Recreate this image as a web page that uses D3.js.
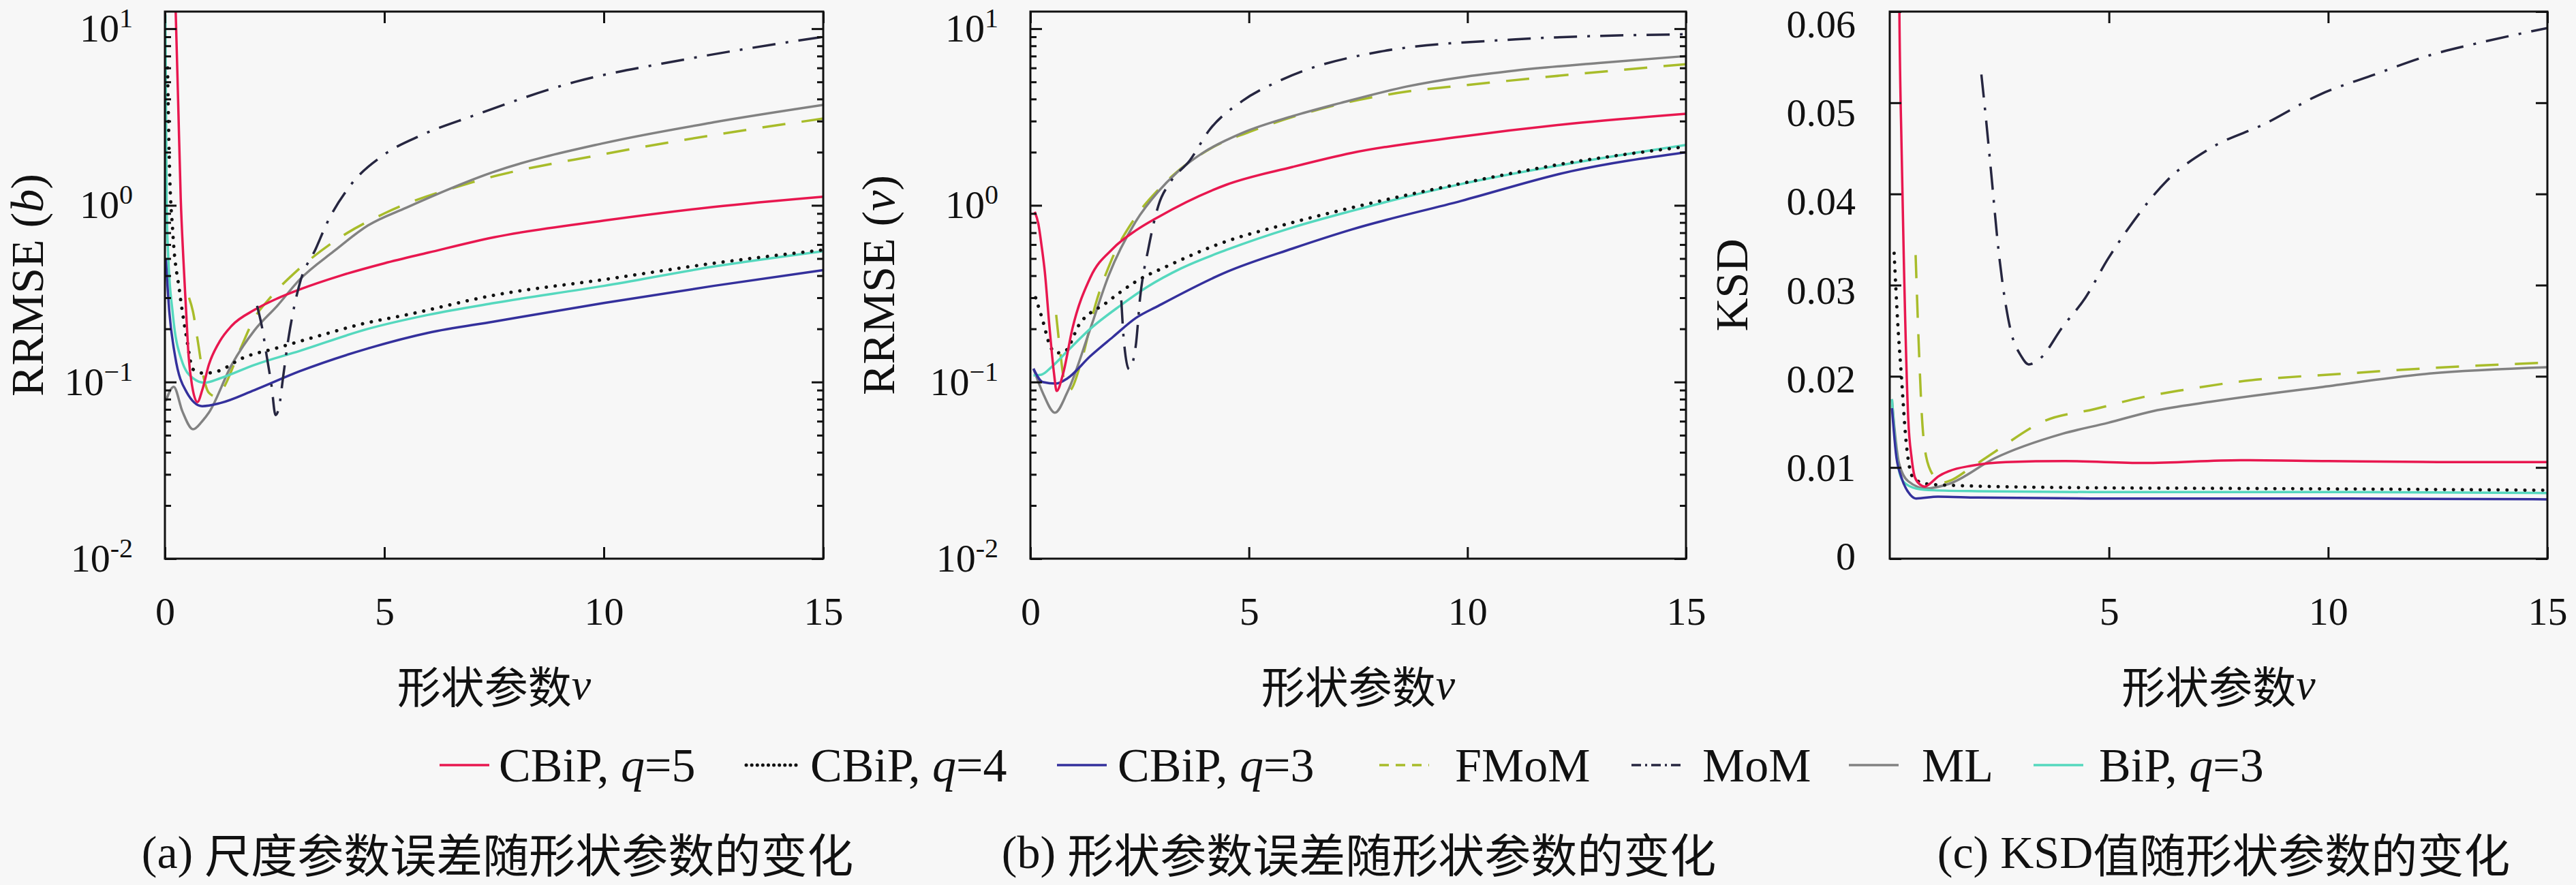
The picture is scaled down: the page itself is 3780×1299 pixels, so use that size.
<!DOCTYPE html>
<html lang="zh">
	<head>
		<meta charset="utf-8">
		<title>RRMSE / KSD vs shape parameter</title>
		<script type="text/javascript" src="https://cdn.jsdelivr.net/npm/d3@7"></script>
		<style type="text/css">
			body { margin: 0; background: #f7f7f7; }
			text { font-family: "Liberation Serif", "Noto Sans CJK SC", serif; fill: #111; }
		</style>
	</head>
	<body>
		<script type="text/javascript">
			//Legend / methods
			var methods = ["CBiP5", "CBiP4", "CBiP3", "FMoM", "MoM", "ML", "BiP"];
			var legendNames = ["CBiP, q=5", "CBiP, q=4", "CBiP, q=3", "FMoM", "MoM", "ML", "BiP, q=3"];

			//Tick values and labels
			var xTicksAB = [0, 5, 10, 15];
			var xTicksC = [5, 10, 15];
			var yTicksLog = [0.01, 0.1, 1, 10];
			var yTickLabelsLog = [["10", "-2"], ["10", "\u22121"], ["10", "0"], ["10", "1"]];
			var yTicksKSD = [0, 0.01, 0.02, 0.03, 0.04, 0.05, 0.06];
			var yTickLabelsKSD = ["0", "0.01", "0.02", "0.03", "0.04", "0.05", "0.06"];

			//(a) RRMSE of scale parameter b   [nu, value]
			var a_CBiP5 = [[0.24,14],[0.3,4],[0.36,1.1],[0.42,0.5],[0.48,0.26],[0.54,0.14],[0.62,0.095],[0.74,0.077],[0.85,0.09],[1.0,0.125],[1.25,0.17],[1.52,0.208],[2.04,0.256],[2.56,0.297],[3.07,0.334],[4.0,0.4],[5.0,0.47],[6.0,0.54],[7.5,0.66],[10,0.82],[12.5,0.98],[15,1.12]];
			var a_CBiP4 = [[0.06,6],[0.1,1.8],[0.18,0.7],[0.33,0.33],[0.49,0.18],[0.64,0.118],[0.9,0.112],[1.2,0.115],[1.78,0.137],[2.56,0.156],[3.59,0.185],[4.52,0.214],[5.5,0.24],[7.5,0.31],[10,0.38],[12.5,0.47],[15,0.56]];
			var a_CBiP3 = [[0.02,0.5],[0.1,0.25],[0.23,0.141],[0.49,0.088],[0.85,0.073],[1.26,0.076],[2.04,0.09],[3.07,0.115],[4.63,0.155],[6,0.19],[7.5,0.22],[10,0.28],[12.5,0.35],[15,0.43]];
			var a_FMoM = [[0.55,0.3],[0.64,0.25],[0.75,0.17],[0.87,0.11],[1.0,0.087],[1.15,0.083],[1.3,0.09],[1.7,0.15],[2.04,0.23],[2.4,0.3],[3.07,0.44],[4,0.66],[5,0.9],[7,1.35],[10,1.95],[12.5,2.5],[15,3.1]];
			var a_MoM = [[2.1,0.27],[2.22,0.2],[2.32,0.14],[2.43,0.095],[2.52,0.065],[2.6,0.072],[2.7,0.11],[2.82,0.18],[2.95,0.27],[3.07,0.36],[3.44,0.57],[3.7,0.8],[4.23,1.3],[5,1.94],[5.85,2.5],[7,3.2],[9.35,5.0],[11.85,6.7],[15,9.0]];
			var a_ML = [[0.02,0.078],[0.2,0.094],[0.4,0.068],[0.64,0.054],[0.85,0.06],[1.0,0.067],[1.52,0.125],[2.04,0.196],[2.56,0.27],[3.07,0.38],[3.85,0.55],[4.63,0.77],[5.5,0.97],[7.5,1.55],[10,2.25],[12.5,2.95],[15,3.7]];
			var a_BiP = [[0.01,12],[0.04,1.0],[0.07,0.55],[0.18,0.242],[0.38,0.133],[0.64,0.105],[0.9,0.099],[1.26,0.105],[2.04,0.125],[3.07,0.15],[4.63,0.2],[6,0.24],[7.5,0.28],[10,0.35],[12.5,0.45],[15,0.55]];

			//(b) RRMSE of shape parameter nu
			var b_CBiP5 = [[0.1,0.92],[0.18,0.79],[0.26,0.58],[0.33,0.42],[0.44,0.2],[0.54,0.112],[0.6,0.089],[0.75,0.112],[0.96,0.2],[1.37,0.39],[1.89,0.57],[2.41,0.72],[2.93,0.86],[4.49,1.31],[6,1.65],[7.35,1.98],[9.86,2.45],[12.37,2.9],[15,3.3]];
			var b_CBiP4 = [[0.12,0.3],[0.28,0.224],[0.45,0.16],[0.59,0.146],[0.8,0.15],[1.11,0.21],[1.73,0.28],[2.41,0.37],[3.19,0.46],[4.28,0.6],[6,0.8],[7.35,0.97],[9.86,1.33],[12.37,1.75],[15,2.15]];
			var b_CBiP3 = [[0.07,0.119],[0.28,0.1],[0.59,0.098],[0.85,0.105],[1.37,0.14],[1.89,0.18],[2.41,0.23],[2.93,0.27],[4.49,0.42],[6,0.57],[7.35,0.73],[9.86,1.06],[12.37,1.56],[15,2.0]];
			var b_FMoM = [[0.59,0.24],[0.68,0.15],[0.78,0.1],[0.9,0.09],[1.16,0.13],[1.5,0.28],[1.84,0.48],[2.41,0.86],[3.0,1.28],[4.2,2.15],[5,2.6],[7.1,3.75],[8.6,4.4],[10,4.8],[12.37,5.5],[15,6.3]];
			var b_MoM = [[2.08,0.29],[2.14,0.17],[2.26,0.118],[2.41,0.16],[2.51,0.3],[2.7,0.57],[2.93,1.0],[3.2,1.35],[3.65,1.8],[4.09,2.66],[4.85,3.9],[5.72,5.1],[7.98,7.4],[11.1,8.7],[15,9.3]];
			var b_ML = [[0.07,0.119],[0.3,0.085],[0.56,0.067],[0.85,0.088],[1.37,0.2],[1.79,0.4],[2.41,0.81],[2.93,1.2],[3.45,1.61],[3.97,2.0],[4.85,2.57],[6,3.2],[7.1,3.8],[8.6,4.7],[11.1,5.8],[13,6.4],[15,7.0]];
			var b_BiP = [[0.07,0.109],[0.25,0.11],[0.49,0.122],[0.85,0.15],[1.37,0.2],[2.05,0.27],[2.67,0.345],[3.45,0.44],[4.49,0.56],[6,0.75],[7.35,0.93],[9.86,1.32],[12.37,1.73],[15,2.2]];

			//(c) KSD
			var c_CBiP5 = [[0.18,0.09],[0.22,0.06],[0.27,0.045],[0.32,0.033],[0.42,0.0155],[0.5,0.011],[0.575,0.0089],[0.7,0.0081],[0.8,0.0079],[0.91,0.0082],[1.1,0.009],[1.35,0.0096],[1.87,0.0102],[2.65,0.0106],[4,0.0107],[5.8,0.0105],[8,0.0108],[10,0.0107],[12.5,0.0106],[15,0.0106]];
			var c_CBiP4 = [[0.1,0.0335],[0.18,0.026],[0.26,0.0204],[0.37,0.013],[0.52,0.009],[0.83,0.0082],[1.66,0.008],[4,0.0078],[8,0.0077],[12,0.0076],[15,0.0075]];
			var c_CBiP3 = [[0.05,0.0165],[0.15,0.0112],[0.26,0.009],[0.47,0.007],[0.6,0.0066],[1.1,0.0068],[2,0.0067],[5,0.0066],[10,0.0066],[15,0.0065]];
			var c_FMoM = [[0.59,0.0333],[0.68,0.0212],[0.73,0.0159],[0.83,0.0112],[1.01,0.009],[1.15,0.0083],[1.4,0.0086],[1.77,0.0097],[2.39,0.0117],[3.53,0.0151],[4.67,0.0164],[5.76,0.0177],[6.69,0.0185],[7.94,0.0194],[10.4,0.0203],[12.31,0.0209],[15,0.0215]];
			var c_MoM = [[2.09,0.0531],[2.2,0.048],[2.3,0.043],[2.5,0.033],[2.75,0.0252],[3.0,0.0222],[3.17,0.0213],[3.42,0.0219],[3.94,0.0254],[4.46,0.0286],[4.98,0.0329],[5.44,0.0362],[6.31,0.0414],[7.31,0.045],[8.56,0.0477],[9.81,0.0509],[11.06,0.0531],[12.31,0.0552],[13.56,0.0567],[15,0.0582]];
			var c_ML = [[0.05,0.0175],[0.11,0.0142],[0.21,0.0105],[0.42,0.0085],[0.83,0.0077],[1.35,0.0082],[2.39,0.011],[3.94,0.0137],[4.98,0.0149],[6.02,0.0162],[7.31,0.0172],[9.81,0.0188],[12.31,0.0203],[15,0.021]];
			var c_BiP = [[0.05,0.0175],[0.15,0.0115],[0.3,0.0085],[0.6,0.0077],[1,0.0075],[2,0.0074],[5,0.0073],[10,0.0073],[15,0.0072]];

			//Width and height
			var w = 3780;
			var h = 1299;
			var plotTop = 17;
			var plotBottom = 820;

			//Line styles per method
			var styles = {
				CBiP5: { color: "#e8174f", dash: null, width: 3.5, cap: "butt" },
				CBiP4: { color: "#111111", dash: "0.1,13", width: 5, cap: "round" },
				CBiP3: { color: "#34309c", dash: null, width: 3.5, cap: "butt" },
				FMoM:  { color: "#a8bc2a", dash: "34,24", width: 3.5, cap: "butt" },
				MoM:   { color: "#262640", dash: "34,15,4,15", width: 3.5, cap: "butt" },
				ML:    { color: "#828282", dash: null, width: 3.5, cap: "butt" },
				BiP:   { color: "#55d8be", dash: null, width: 3.5, cap: "butt" }
			};
			var drawOrder = ["FMoM", "ML", "BiP", "CBiP3", "CBiP4", "CBiP5", "MoM"];

			var panels = [
				{ left: 242, right: 1208, log: true, yDomain: [0.01, 12.5], xTicks: xTicksAB,
				  yLabel: ["RRMSE (", "b", ")"], yLabelX: 63, caption: ["(a) ", "尺度参数误差随形状参数的变化"], capX: 730,
				  data: { CBiP5: a_CBiP5, CBiP4: a_CBiP4, CBiP3: a_CBiP3, FMoM: a_FMoM, MoM: a_MoM, ML: a_ML, BiP: a_BiP } },
				{ left: 1512, right: 2474, log: true, yDomain: [0.01, 12.5], xTicks: xTicksAB,
				  yLabel: ["RRMSE (", "\u03bd", ")"], yLabelX: 1312, caption: ["(b) ", "形状参数误差随形状参数的变化"], capX: 1994,
				  data: { CBiP5: b_CBiP5, CBiP4: b_CBiP4, CBiP3: b_CBiP3, FMoM: b_FMoM, MoM: b_MoM, ML: b_ML, BiP: b_BiP } },
				{ left: 2773, right: 3738, log: false, yDomain: [0, 0.06], xTicks: xTicksC,
				  yLabel: ["KSD"], yLabelX: 2564, caption: ["(c) KSD", "值随形状参数的变化"], capX: 3263,
				  data: { CBiP5: c_CBiP5, CBiP4: c_CBiP4, CBiP3: c_CBiP3, FMoM: c_FMoM, MoM: c_MoM, ML: c_ML, BiP: c_BiP } }
			];

			//Create SVG element
			var svg = d3.select("body")
						.append("svg")
						.attr("width", w)
						.attr("height", h);
			svg.append("rect")
			   .attr("width", w)
			   .attr("height", h)
			   .attr("fill", "#f7f7f7");

			//Strip default axis styling and domain line
			function tidy(g, size) {
				g.attr("font-family", null)
				 .attr("font-size", size)
				 .attr("color", "#111");
				g.select(".domain").remove();
				g.selectAll(".tick line").attr("stroke-width", 3);
			}

			panels.forEach(function(p, i) {
				var xScale = d3.scaleLinear()
								.domain([0, 15])
								.range([p.left, p.right]);
				var yScale = (p.log ? d3.scaleLog() : d3.scaleLinear())
								.domain(p.yDomain)
								.range([plotBottom, plotTop]);

				var clipId = "clip" + i;
				svg.append("clipPath")
				   .attr("id", clipId)
				   .append("rect")
				   .attr("x", p.left)
				   .attr("y", plotTop)
				   .attr("width", p.right - p.left)
				   .attr("height", plotBottom - plotTop);

				var line = d3.line()
							.x(function(d) { return xScale(d[0]); })
							.y(function(d) { return yScale(d[1]); })
							.curve(d3.curveMonotoneX);

				//Create lines
				var lines = svg.append("g").attr("clip-path", "url(#" + clipId + ")");
				drawOrder.forEach(function(m) {
					var s = styles[m];
					lines.append("path")
					   .datum(p.data[m])
					   .attr("d", line)
					   .attr("fill", "none")
					   .attr("stroke", s.color)
					   .attr("stroke-width", s.width)
					   .attr("stroke-dasharray", s.dash)
					   .attr("stroke-linecap", s.cap)
					   .attr("stroke-linejoin", "round");
				});

				//Bottom / top axes (ticks point inward)
				svg.append("g")
				   .attr("transform", "translate(0," + plotBottom + ")")
				   .call(d3.axisBottom(xScale).tickValues(p.xTicks).tickSizeInner(-17).tickSizeOuter(0)
						.tickPadding(56).tickFormat(d3.format("d")))
				   .call(tidy, 58);
				svg.append("g")
				   .attr("transform", "translate(0," + plotTop + ")")
				   .call(d3.axisTop(xScale).tickValues(p.xTicks).tickSizeInner(-17).tickSizeOuter(0).tickFormat(""))
				   .call(tidy, 58);

				//Left / right axes
				var yLeft = d3.axisLeft(yScale).tickSizeInner(-17).tickSizeOuter(0);
				var yRight = d3.axisRight(yScale).tickSizeInner(-17).tickSizeOuter(0).tickFormat("");
				if (p.log) {
					yLeft.tickValues(yTicksLog).tickPadding(47).tickFormat("");
					yRight.tickValues(yTicksLog);
				} else {
					yLeft.tickValues(yTicksKSD).tickPadding(50)
						 .tickFormat(function(d, k) { return yTickLabelsKSD[k]; });
					yRight.tickValues(yTicksKSD);
				}
				var gl = svg.append("g")
				   .attr("transform", "translate(" + p.left + ",0)")
				   .call(yLeft)
				   .call(tidy, 58);
				svg.append("g")
				   .attr("transform", "translate(" + p.right + ",0)")
				   .call(yRight)
				   .call(tidy, 58);

				if (p.log) {
					//Labels of the form 10^k
					gl.selectAll(".tick text").each(function(d, k) {
						var t = d3.select(this).text(null);
						t.append("tspan").text(yTickLabelsLog[k][0]);
						t.append("tspan").attr("dy", -21).attr("font-size", 40).text(yTickLabelsLog[k][1]);
					});

					//Minor log ticks
					var minor = [];
					for (var e = -2; e <= 0; e++) {
						for (var k = 2; k <= 9; k++) minor.push(k * Math.pow(10, e));
					}
					svg.append("g")
					   .attr("transform", "translate(" + p.left + ",0)")
					   .call(d3.axisLeft(yScale).tickValues(minor).tickSizeInner(-9).tickSizeOuter(0).tickFormat(""))
					   .call(tidy, 58);
					svg.append("g")
					   .attr("transform", "translate(" + p.right + ",0)")
					   .call(d3.axisRight(yScale).tickValues(minor).tickSizeInner(-9).tickSizeOuter(0).tickFormat(""))
					   .call(tidy, 58);
				} else {
					//In the original the KSD labels sit a little lower than their ticks
					var labelPos = d3.scaleLinear().domain(p.yDomain).range([817, 36]);
					gl.selectAll(".tick text")
					  .attr("y", function(d) { return labelPos(d) - yScale(d); });
				}

				//Box
				svg.append("rect")
				   .attr("x", p.left)
				   .attr("y", plotTop)
				   .attr("width", p.right - p.left)
				   .attr("height", plotBottom - plotTop)
				   .attr("fill", "none")
				   .attr("stroke", "#111")
				   .attr("stroke-width", 3);

				//Y label
				var yl = svg.append("text")
				   .attr("transform", "translate(" + p.yLabelX + "," + ((plotTop + plotBottom) / 2) + ") rotate(-90)")
				   .attr("text-anchor", "middle")
				   .attr("font-size", 68);
				p.yLabel.forEach(function(part, k) {
					yl.append("tspan").attr("font-style", k === 1 ? "italic" : null).text(part);
				});

				//X label
				var xl = svg.append("text")
				   .attr("x", (p.left + p.right) / 2)
				   .attr("y", 1004)
				   .attr("dominant-baseline", "central")
				   .attr("text-anchor", "middle")
				   .attr("font-size", 64);
				xl.append("tspan").attr("font-family", "Noto Sans CJK SC").text("形状参数");
				xl.append("tspan").attr("font-style", "italic").text("\u03bd");

				//Caption
				var cap = svg.append("text")
				   .attr("x", p.capX)
				   .attr("y", 1251)
				   .attr("dominant-baseline", "central")
				   .attr("text-anchor", "middle")
				   .attr("font-size", 68);
				cap.append("tspan").text(p.caption[0]);
				cap.append("tspan").attr("font-family", "Noto Sans CJK SC").text(p.caption[1]);
			});

			//Legend
			var legendLineX = [645, 1095, 1551, 2024, 2394, 2713, 2984];
			var legendTextX = [732, 1189, 1640, 2135, 2498, 2820, 3080];
			var legendY = 1123;
			var legend = svg.append("g");
			methods.forEach(function(m, i) {
				var s = styles[m];
				legend.append("line")
				   .attr("x1", legendLineX[i])
				   .attr("x2", legendLineX[i] + 73)
				   .attr("y1", legendY)
				   .attr("y2", legendY)
				   .attr("stroke", s.color)
				   .attr("stroke-width", s.width)
				   .attr("stroke-dasharray", m === "CBiP4" ? "0.1,8" : (m === "FMoM" ? "14,10" : (m === "MoM" ? "14,6,3,6" : s.dash)))
				   .attr("stroke-linecap", s.cap);
				var t = legend.append("text")
				   .attr("x", legendTextX[i])
				   .attr("y", legendY)
				   .attr("dominant-baseline", "central")
				   .attr("font-size", 70);
				var name = legendNames[i];
				var qi = name.indexOf("q");
				if (qi >= 0) {
					t.append("tspan").text(name.slice(0, qi));
					t.append("tspan").attr("font-style", "italic").text("q");
					t.append("tspan").text(name.slice(qi + 1));
				} else {
					t.text(name);
				}
			});
		</script>
	</body>
</html>
